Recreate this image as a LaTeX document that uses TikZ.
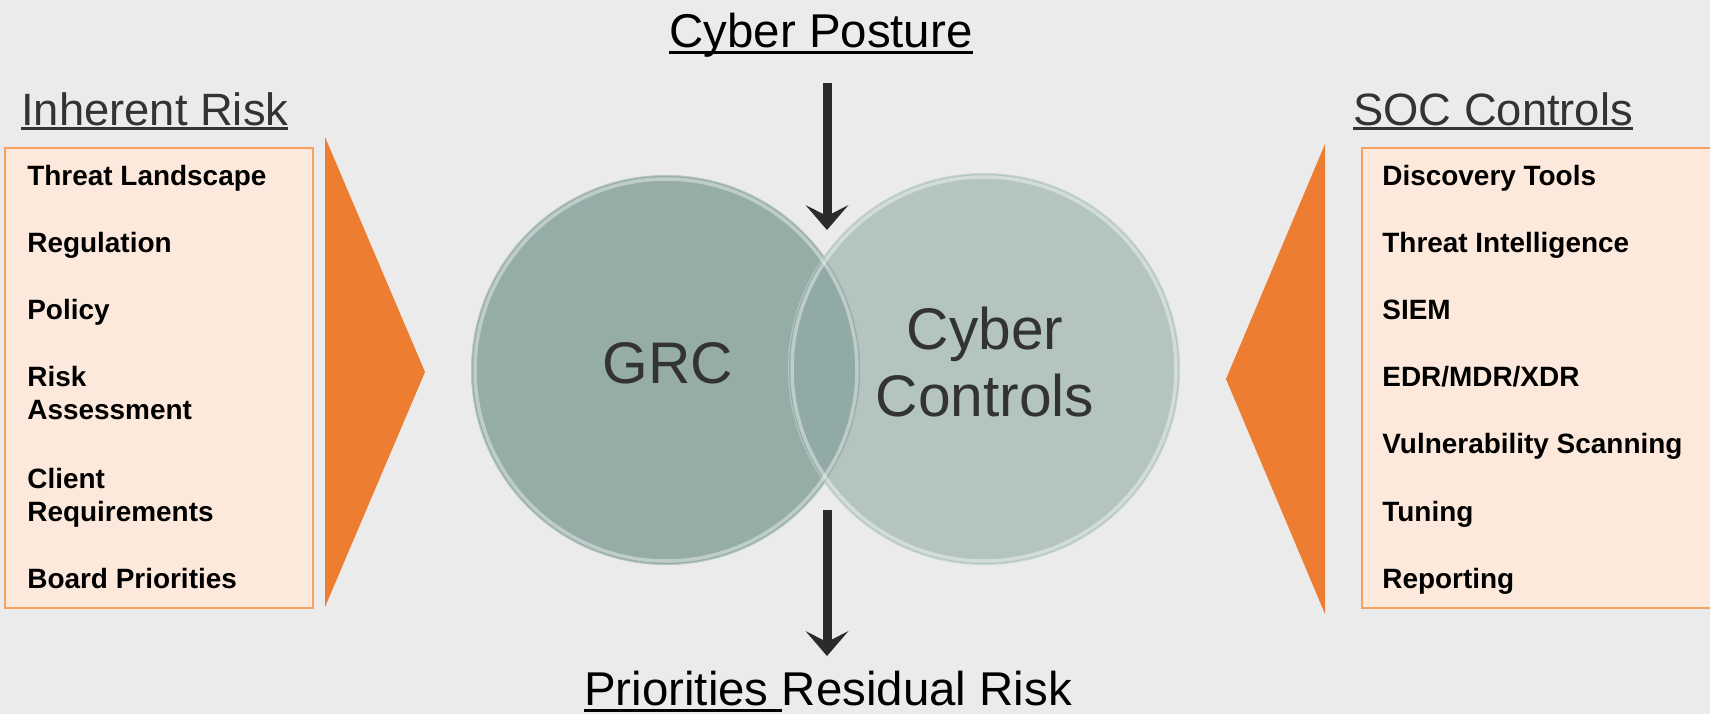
\documentclass[tikz,border=0pt]{standalone}
\usepackage{tikz}
\usepackage{fontspec}
\usetikzlibrary{arrows.meta}
\setmainfont{Liberation Sans}

\definecolor{backdrop}{HTML}{EBEBEB}
\definecolor{peach}{HTML}{FCE9DB}
\definecolor{peachline}{HTML}{F6A25E}
\definecolor{wedge}{HTML}{ED7D31}
\definecolor{grcfill}{HTML}{95ACA7}
\definecolor{cyberfill}{HTML}{B4C5C0}
\definecolor{overlapfill}{HTML}{92AAA5}
\definecolor{headgray}{HTML}{333333}
\definecolor{arrowgray}{HTML}{2B2B2B}

% underline drawn as a rule: #1 = lowering of the rule, #2 = text
\newsavebox{\headbox}
\newcommand{\ulhead}[2]{\sbox{\headbox}{#2}\rlap{\rule[-#1]{\wd\headbox}{1.9pt}}\usebox{\headbox}}

\tikzset{
  item/.style={anchor=base west, inner sep=0pt, align=left,
    font=\bfseries\fontsize{15.9pt}{18.7pt}\selectfont},
  sidehead/.style={anchor=base west, inner sep=0pt, text=headgray,
    font=\fontsize{25.8pt}{30pt}\selectfont},
  mainhead/.style={anchor=base, inner sep=0pt,
    font=\fontsize{27pt}{32pt}\selectfont},
  disctext/.style={inner sep=0pt, align=center, text=headgray,
    font=\fontsize{33.4pt}{38pt}\selectfont},
  listbox/.style={fill=peach, draw=peachline, line width=0.04cm},
  flowarrow/.style={draw=arrowgray, line width=0.18cm,
    -{Stealth[length=0.5cm, width=0.86cm, inset=0.22cm, line width=0pt]}},
}

\begin{document}
\begin{tikzpicture}[x=0.02cm, y=-0.02cm]
\clip (0,0) rectangle (1710,714);
\fill [backdrop] (0,0) rectangle (1710,714);

% side panels
\draw [listbox] (5,148) rectangle (313,608);
\fill [wedge] (325,137) -- (425,372) -- (325,607) -- cycle;

\draw [listbox] (1362,148) rectangle (1725,608);
\fill [wedge] (1325,144) -- (1226,379) -- (1325,614) -- cycle;

% the two discs
\coordinate (grc centre) at (666,370);
\coordinate (cyber centre) at (984,369);

\fill [grcfill] (grc centre) circle (195);
\fill [cyberfill] (cyber centre) circle (196);
\begin{scope}
  \clip (grc centre) circle (195);
  \fill [overlapfill] (cyber centre) circle (196);
\end{scope}
\draw [white, opacity=0.4, line width=0.07cm] (grc centre) circle (191);
\draw [white, opacity=0.4, line width=0.07cm] (cyber centre) circle (192);
\draw [white, opacity=0.3, line width=0.02cm] (grc centre) circle (194.5);
\draw [white, opacity=0.3, line width=0.02cm] (cyber centre) circle (195.5);

\node (GRC) at (668,383) [disctext, anchor=base] {GRC};
\node (Cyber Controls) at (985,362) [disctext] {Cyber\\Controls};

% headings
\node (Cyber Posture) at (821,47) [mainhead] {\ulhead{4.2pt}{Cyber Posture}};
\node (Residual Risk) at (828,705) [mainhead] {\ulhead{4.2pt}{Priorities\ }Residual Risk};
\node (Inherent Risk) at (21,125) [sidehead] {\ulhead{3.1pt}{Inherent Risk}};
\node (SOC Controls) at (1353,125) [sidehead] {\ulhead{3.1pt}{SOC Controls}};

% inherent risk list (base = last line)
\node (Threat Landscape) at (27,185) [item] {Threat Landscape};
\node (Regulation) at (27,252) [item] {Regulation};
\node (Policy) at (27,319) [item] {Policy};
\node (Risk Assessment) at (27,419) [item] {Risk\\Assessment};
\node (Client Requirements) at (27,521) [item] {Client\\Requirements};
\node (Board Priorities) at (27,588) [item] {Board Priorities};

% soc controls list
\node (Discovery Tools) at (1382,185) [item] {Discovery Tools};
\node (Threat Intelligence) at (1382,252) [item] {Threat Intelligence};
\node (SIEM) at (1382,319) [item] {SIEM};
\node (EDR MDR XDR) at (1382,386) [item] {EDR/MDR/XDR};
\node (Vulnerability Scanning) at (1382,453) [item] {Vulnerability Scanning};
\node (Tuning) at (1382,521) [item] {Tuning};
\node (Reporting) at (1382,588) [item] {Reporting};

% arrows
\coordinate (posture start) at (827,83);
\coordinate (posture end) at (827,230);
\coordinate (residual start) at (827,510);
\coordinate (residual end) at (827,656);
\draw [flowarrow] (posture start) -- (posture end);
\draw [flowarrow] (residual start) -- (residual end);
\end{tikzpicture}
\end{document}
